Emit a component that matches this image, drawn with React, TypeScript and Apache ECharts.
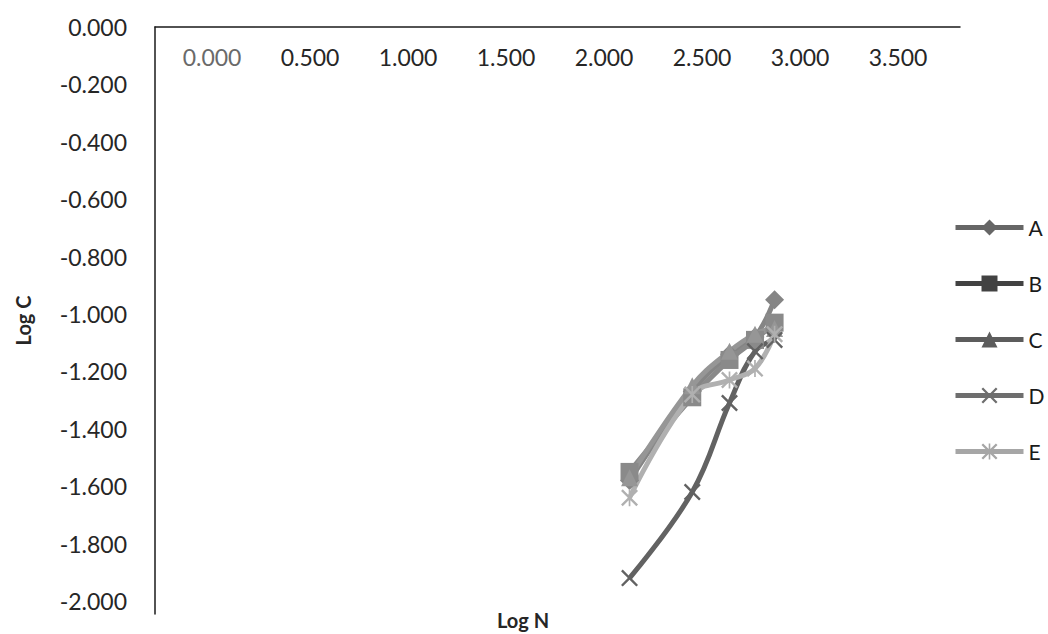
import React, { useEffect, useRef } from "react";
import * as echarts from "echarts";

const logN = [2.13, 2.45, 2.64, 2.77, 2.87];
const seriesA = [-1.58, -1.27, -1.14, -1.08, -0.95];
const seriesB = [-1.55, -1.29, -1.16, -1.09, -1.03];
const seriesC = [-1.57, -1.25, -1.13, -1.07, -1.05];
const seriesD = [-1.92, -1.62, -1.31, -1.13, -1.09];
const seriesE = [-1.64, -1.28, -1.23, -1.19, -1.07];
const seriesNames = ["A", "B", "C", "D", "E"];
const xTicks = [0, 0.5, 1, 1.5, 2, 2.5, 3, 3.5];
const yTicks = [0, -0.2, -0.4, -0.6, -0.8, -1.0, -1.2, -1.4, -1.6, -1.8, -2.0];

const CROSS =
  "path://M0,2 L2,0 L10,8 L18,0 L20,2 L12,10 L20,18 L18,20 L10,12 L2,20 L0,18 L8,10 Z";
const STAR =
  "path://M0,2 L2,0 L9,7 L9,0 L11,0 L11,7 L18,0 L20,2 L12,10 L20,18 L18,20 L11,13 L11,20 L9,20 L9,13 L2,20 L0,18 L8,10 Z";

const FONT = "Lato, 'Open Sans', sans-serif";

export default function App() {
  const ref = useRef<HTMLDivElement>(null);
  useEffect(() => {
    if (!ref.current) return;
    const chart = echarts.init(ref.current, null, { renderer: "svg" });
    const all = [seriesA, seriesB, seriesC, seriesD, seriesE];
    const plotColors = ["#858585", "#8a8a8a", "#969696", "#626262", "#b0b0b0"];
    const legendColors = ["#666666", "#424242", "#5c5c5c", "#6e6e6e", "#a6a6a6"];
    const symbols = ["diamond", "rect", "triangle", CROSS, STAR];
    const sizes = [19, 18, 17, 17, 17];
    chart.setOption({
      animation: false,
      textStyle: { fontFamily: FONT },
      grid: { left: 155, top: 27, right: 88, bottom: 20, containLabel: false },
      legend: {
        orient: "vertical",
        left: 948,
        top: 212,
        itemWidth: 68,
        itemHeight: 20,
        itemGap: 35,
        textStyle: { fontSize: 21, color: "#1a1a1a", fontFamily: FONT },
        data: seriesNames.map((n, i) => ({
          name: n,
          itemStyle: { color: legendColors[i] },
          lineStyle: { color: legendColors[i], width: 5 },
        })),
      },
      xAxis: {
        type: "value",
        position: "top",
        min: -0.291,
        max: 3.816,
        axisLine: { show: true, onZero: false, lineStyle: { color: "#1a1a1a", width: 1.5 } },
        axisTick: { show: false },
        splitLine: { show: false },
        axisLabel: {
          inside: true,
          margin: 18,
          fontSize: 23,
          color: "#262626",
          fontFamily: FONT,
          customValues: xTicks,
          formatter: (v: number) => (Math.abs(v) < 1e-9 ? "{g|0.000}" : v.toFixed(3)),
          rich: { g: { color: "#6a6a6a", fontSize: 23, fontFamily: FONT } },
        },
      },
      yAxis: {
        type: "value",
        min: -2.045,
        max: 0,
        name: "Log C",
        nameLocation: "middle",
        nameRotate: 90,
        nameGap: 122,
        nameTextStyle: { fontSize: 20, fontWeight: "bold", color: "#262626", fontFamily: FONT },
        axisLine: { show: true, onZero: false, lineStyle: { color: "#1a1a1a", width: 1.5 } },
        axisTick: { show: false },
        splitLine: { show: false },
        axisLabel: {
          margin: 28,
          fontSize: 23,
          color: "#262626",
          fontFamily: FONT,
          customValues: yTicks,
          formatter: (v: number) => (Math.abs(v) < 1e-9 ? "0.000" : v.toFixed(3)),
        },
      },
      graphic: [
        {
          type: "text",
          left: 497,
          top: 610,
          style: { text: "Log N", fontSize: 20, fontWeight: "bold", fill: "#262626", fontFamily: FONT },
        },
      ],
      series: all.map((vals, i) => ({
        name: seriesNames[i],
        type: "line",
        smooth: 0.4,
        data: vals.map((v, j) => [logN[j], v]),
        symbol: symbols[i],
        symbolSize: sizes[i],
        color: plotColors[i],
        lineStyle: { width: 5, color: plotColors[i] },
        itemStyle: { color: plotColors[i] },
      })),
    });
    return () => chart.dispose();
  }, []);
  return (
    <div
      ref={ref}
      style={{ position: "absolute", left: 0, top: 0, width: 1048, height: 634, background: "#fff" }}
    />
  );
}
